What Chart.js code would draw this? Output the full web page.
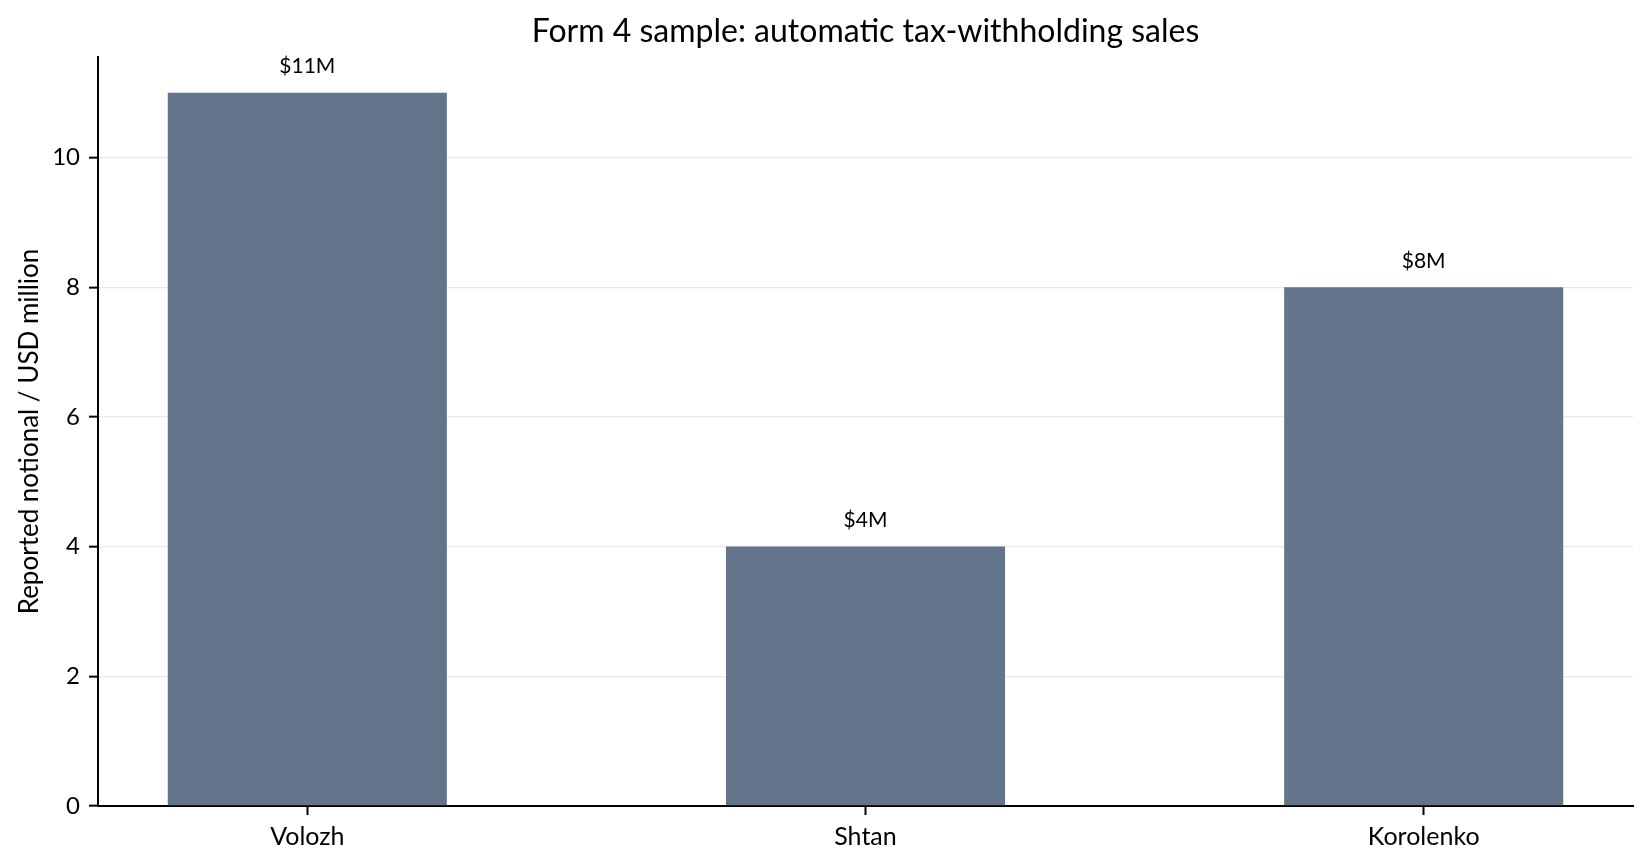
<!DOCTYPE html>
<html>
<head>
<meta charset="utf-8">
<script src="https://cdn.jsdelivr.net/npm/chart.js@4.4.1/dist/chart.umd.min.js"></script>
<style>
  html, body { margin: 0; padding: 0; background: #fff; }
  #wrap { width: 1650px; height: 865px; position: relative; }
</style>
</head>
<body>
<div id="wrap"><canvas id="chart"></canvas></div>
<script>
const names = ['Volozh', 'Shtan', 'Korolenko'];
const notional = [11, 4, 8]; // USD million
const yTicks = [0, 2, 4, 6, 8, 10];
const titleText = 'Form 4 sample: automatic tax-withholding sales';
const yLabel = 'Reported notional / USD million';

const FONT = 'Lato, "Noto Sans", sans-serif';
const barColor = '#64748b';

// title + value labels above bars
const annotate = {
  id: 'annotate',
  afterDraw(chart) {
    const ctx = chart.ctx;
    const area = chart.chartArea;
    ctx.save();
    ctx.fillStyle = '#000';
    ctx.textAlign = 'center';
    ctx.textBaseline = 'alphabetic';
    ctx.font = '32px ' + FONT;
    ctx.fillText(titleText, (area.left + area.right) / 2, 42);

    ctx.font = '21px ' + FONT;
    chart.getDatasetMeta(0).data.forEach((bar, i) => {
      ctx.fillText('$' + notional[i] + 'M', bar.x, bar.y - 19.5);
    });
    ctx.restore();
  }
};

new Chart(document.getElementById('chart'), {
  type: 'bar',
  data: {
    datasets: [{
      data: notional.map((v, i) => ({ x: i, y: v })),
      backgroundColor: barColor,
      borderWidth: 0,
      categoryPercentage: 1,
      barPercentage: 0.5
    }]
  },
  options: {
    responsive: true,
    maintainAspectRatio: false,
    animation: false,
    layout: { padding: { left: 0, right: 17, top: 57, bottom: 0 } },
    plugins: {
      legend: { display: false },
      tooltip: { enabled: false }
    },
    scales: {
      x: {
        type: 'linear',
        min: -0.375,
        max: 2.375,
        offset: false,
        z: 2,
        afterBuildTicks: (scale) => {
          scale.ticks = names.map((n, i) => ({ value: i }));
        },
        afterFit: (scale) => { scale.height = 59; },
        grid: {
          offset: false,
          drawOnChartArea: false,
          tickLength: 9,
          tickColor: '#000',
          tickWidth: 2
        },
        border: { display: true, color: '#000', width: 2 },
        ticks: {
          color: '#000',
          padding: 7,
          maxRotation: 0,
          autoSkip: false,
          font: { family: FONT, size: 25 },
          callback: (v) => names[v]
        }
      },
      y: {
        min: 0,
        max: 11.55,
        z: 1,
        afterBuildTicks: (scale) => {
          scale.ticks = yTicks.map(v => ({ value: v }));
        },
        afterFit: (scale) => { scale.width = 98; },
        grid: {
          color: (c) => (c.tick && c.tick.value === 0) ? 'rgba(0,0,0,0)' : 'rgba(176,176,176,0.28)',
          lineWidth: 1.3,
          tickLength: 9,
          tickColor: '#000',
          tickWidth: 2
        },
        border: { display: true, color: '#000', width: 2 },
        ticks: {
          color: '#000',
          padding: 9,
          font: { family: FONT, size: 24 }
        },
        title: {
          display: true,
          text: yLabel,
          color: '#000',
          padding: { top: 14, bottom: 0 },
          font: { family: FONT, size: 26 }
        }
      }
    }
  },
  plugins: [annotate]
});
</script>
</body>
</html>
